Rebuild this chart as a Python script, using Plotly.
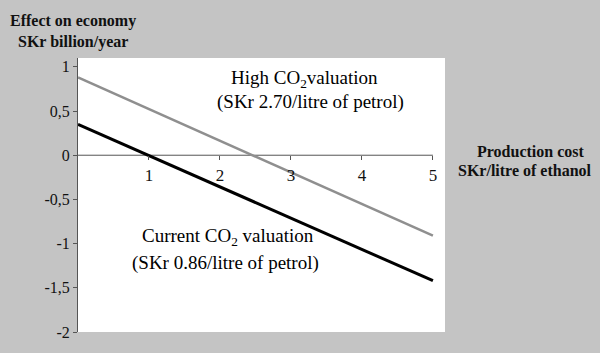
import plotly.graph_objects as go

# Data
production_cost = [0, 5]
high_co2 = [0.88, -0.91]      # High CO2 valuation (SKr 2.70/litre of petrol)
current_co2 = [0.35, -1.42]   # Current CO2 valuation (SKr 0.86/litre of petrol)

x_tickvals = [1, 2, 3, 4, 5]
x_ticktext = ["1", "2", "3", "4", "5"]
y_tickvals = [1, 0.5, 0, -0.5, -1, -1.5, -2]
y_ticktext = ["1", "0,5", "0", "-0,5", "-1", "-1,5", "-2"]

x_range = [0, 5.17]
y_range = [-2, 1.1]

FONT = "Liberation Serif"
W, H = 600, 353
ML, MR, MT, MB = 78, 155, 58, 16
PW, PH = W - ML - MR, H - MT - MB


def px(x, y):
    return (x - ML) / PW, 1 - (y - MT) / PH


fig = go.Figure()
fig.add_trace(go.Scatter(x=production_cost, y=high_co2, mode="lines",
                         line=dict(color="#8f8f8f", width=2.5), showlegend=False,
                         name="High CO2 valuation"))
fig.add_trace(go.Scatter(x=production_cost, y=current_co2, mode="lines",
                         line=dict(color="#000000", width=3), showlegend=False,
                         name="Current CO2 valuation"))

zero_pos = (0 - y_range[0]) / (y_range[1] - y_range[0])

# x-axis line drawn at y = 0, from first to last production cost
fig.add_shape(type="line", xref="x", yref="y",
              x0=production_cost[0], x1=x_tickvals[-1], y0=0, y1=0,
              line=dict(color="#555555", width=1), layer="below")

fig.update_layout(
    width=W, height=H,
    margin=dict(l=ML, r=MR, t=MT, b=MB),
    paper_bgcolor="#c4c4c4",
    plot_bgcolor="#ffffff",
    font=dict(family=FONT, size=16, color="#111111"),
    xaxis=dict(range=x_range, tickvals=x_tickvals, ticktext=x_ticktext,
               showgrid=False, zeroline=False, showline=False,
               ticks="outside", ticklen=4, tickcolor="#555555",
               anchor="free", position=zero_pos,
               tickfont=dict(family=FONT, size=17, color="#111111")),
    yaxis=dict(range=y_range, tickvals=y_tickvals, ticktext=y_ticktext,
               showgrid=False, zeroline=False, showline=True, linecolor="#555555",
               linewidth=1, ticks="outside", ticklen=4, tickcolor="#555555",
               tickfont=dict(family=FONT, size=16, color="#111111")),
)

annotations = [
    dict(text="<b>Effect on economy</b>", x=73, y=20),
    dict(text="<b>SKr billion/year</b>", x=73, y=42),
    dict(text="<b>Production cost</b>", x=530, y=153),
    dict(text="<b>SKr/litre of ethanol</b>", x=525, y=173),
]
for a in annotations:
    fx, fy = px(a["x"], a["y"])
    fig.add_annotation(text=a["text"], xref="paper", yref="paper",
                       x=fx, y=fy, xanchor="center", yanchor="middle",
                       showarrow=False, font=dict(family=FONT, size=16, color="#111111"))

labels = [
    dict(text="High CO<sub>2</sub>valuation", x=304, y=79),
    dict(text="(SKr 2.70/litre of petrol)", x=310, y=103),
    dict(text="Current CO<sub>2</sub> valuation", x=228, y=240),
    dict(text="(SKr 0.86/litre of petrol)", x=225, y=267),
]
for a in labels:
    fx, fy = px(a["x"], a["y"])
    fig.add_annotation(text=a["text"], xref="paper", yref="paper",
                       x=fx, y=fy, xanchor="center", yanchor="middle",
                       showarrow=False, font=dict(family=FONT, size=19, color="#000000"))

fig.write_html("out.html")
